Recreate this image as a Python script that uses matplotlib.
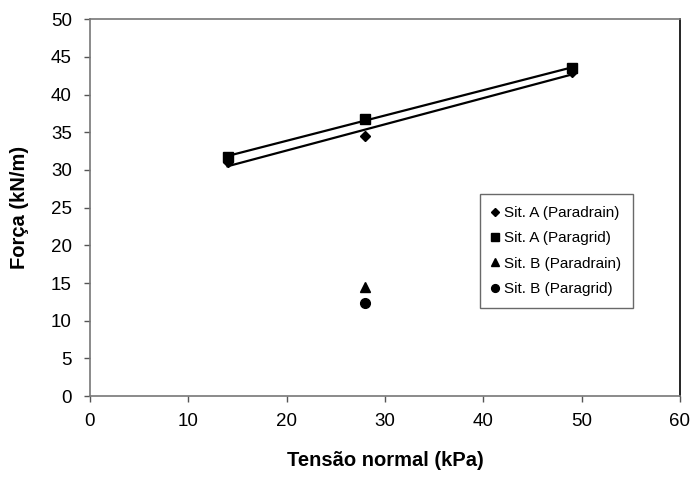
import numpy as np
import matplotlib
matplotlib.use("Agg")
import matplotlib.pyplot as plt

plt.rcParams['font.family'] = ['Liberation Sans', 'DejaVu Sans']

# --- data ---
tensao_a = [14, 28, 49]
forca_a_paradrain = [31.0, 34.5, 43.0]
forca_a_paragrid = [31.7, 36.8, 43.5]

tensao_b = [28]
forca_b_paradrain = [14.5]
forca_b_paragrid = [12.3]

x_ticks = [0, 10, 20, 30, 40, 50, 60]
y_ticks = [0, 5, 10, 15, 20, 25, 30, 35, 40, 45, 50]

fig = plt.figure(figsize=(6.91, 4.79), dpi=100)
ax = fig.add_axes([0.130, 0.173, 0.854, 0.787])

# linear trend lines for situation A
for ys in (forca_a_paradrain, forca_a_paragrid):
    k, b = np.polyfit(tensao_a, ys, 1)
    xx = np.array([tensao_a[0], tensao_a[-1]])
    ax.plot(xx, k * xx + b, color="black", lw=1.6, zorder=2)

ax.plot(tensao_a, forca_a_paradrain, "D", color="black", ms=5.5, ls="none",
        label="Sit. A (Paradrain)", zorder=3)
ax.plot(tensao_a, forca_a_paragrid, "s", color="black", ms=7, ls="none",
        label="Sit. A (Paragrid)", zorder=3)
ax.plot(tensao_b, forca_b_paradrain, "^", color="black", ms=7, ls="none",
        label="Sit. B (Paradrain)", zorder=3)
ax.plot(tensao_b, forca_b_paragrid, "o", color="black", ms=7, ls="none",
        label="Sit. B (Paragrid)", zorder=3)

ax.set_xlim(0, 60)
ax.set_ylim(0, 50)
ax.set_xticks(x_ticks)
ax.set_yticks(y_ticks)
ax.tick_params(direction="out", length=4, width=1, color="#555555",
               labelsize=13.5)
ax.tick_params(axis="x", pad=8)
ax.tick_params(axis="y", pad=9)

for side in ("left", "bottom", "top"):
    ax.spines[side].set_color("#777777")
    ax.spines[side].set_linewidth(1.2)
ax.spines["right"].set_color("black")
ax.spines["right"].set_linewidth(1.2)

ax.set_xlabel("Tensão normal (kPa)", fontsize=14.5, fontweight="bold", labelpad=15)
ax.set_ylabel("Força (kN/m)", fontsize=14.5, fontweight="bold", labelpad=16)

leg = ax.legend(loc="upper left", bbox_to_anchor=(0.661, 0.535), frameon=True,
                fancybox=False, fontsize=11, handlelength=0.5,
                handletextpad=0.35, labelspacing=0.75, borderpad=0.75,
                borderaxespad=0, markerscale=0.8)
leg.get_frame().set_edgecolor("#444444")
leg.get_frame().set_linewidth(1.0)

fig.savefig("out.png", dpi=100)
